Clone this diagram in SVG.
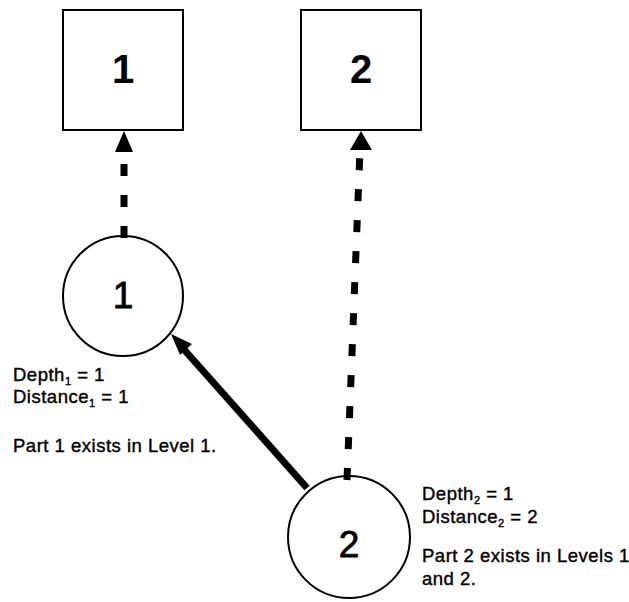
<svg xmlns="http://www.w3.org/2000/svg" width="629" height="602" viewBox="0 0 629 602">
  <style>
    .box { fill: #fff; stroke: #000; stroke-width: 2; }
    .node { fill: #fff; stroke: #000; stroke-width: 2; }
    .boxnum { font-family: "Liberation Sans", Arial, sans-serif; font-weight: bold; font-size: 40px; text-anchor: middle; fill: #000; }
    .nodenum { font-family: "Liberation Sans", Arial, sans-serif; font-size: 37px; text-anchor: middle; fill: #000; stroke: #000; stroke-width: 0.8; }
    .note { font-family: "Liberation Sans", Arial, sans-serif; font-size: 18.5px; letter-spacing: 0.5px; fill: #000; stroke: #000; stroke-width: 0.4; }
    .sub { font-size: 11px; }
    .dash { fill: none; stroke: #000; stroke-width: 7; stroke-dasharray: 12 19; }
    .solid { fill: none; stroke: #000; stroke-width: 7; }
  </style>

  <rect width="629" height="602" fill="#fff"/>

  <!-- level boxes -->
  <g id="level-1">
    <rect class="box" x="63" y="10" width="120" height="120"/>
    <text class="boxnum" x="123" y="83">1</text>
  </g>
  <g id="level-2">
    <rect class="box" x="301" y="10" width="120" height="120"/>
    <text class="boxnum" x="361" y="83">2</text>
  </g>

  <!-- part nodes -->
  <g id="part-1">
    <circle class="node" cx="123" cy="296" r="60"/>
    <text class="nodenum" x="123" y="308">1</text>
  </g>
  <g id="part-2">
    <circle class="node" cx="349" cy="537" r="61"/>
    <text class="nodenum" x="349" y="557">2</text>
  </g>

  <!-- connectors -->
  <g id="connectors">
    <!-- part 1 -> level 1 (dashed) -->
    <path class="dash" d="M124,238 L124,150"/>
    <path d="M124,131 L133,152 L115,152 Z" fill="#000"/>
    <!-- part 2 -> level 2 (dashed) -->
    <path class="dash" d="M347,480 L360,150"/>
    <path d="M361,131 L372,150 L350,150 Z" fill="#000"/>
    <!-- part 2 -> part 1 (solid) -->
    <path class="solid" d="M307,488 L180,345"/>
    <path d="M171,334 L192,344 L180,355 Z" fill="#000"/>
  </g>

  <!-- annotations -->
  <g id="notes-1">
    <text class="note" x="13" y="381">Depth<tspan class="sub" dy="4">1</tspan><tspan dy="-4"> = 1</tspan></text>
    <text class="note" x="13" y="403">Distance<tspan class="sub" dy="4">1</tspan><tspan dy="-4"> = 1</tspan></text>
    <text class="note" x="13" y="452">Part 1 exists in Level 1.</text>
  </g>
  <g id="notes-2">
    <text class="note" x="422" y="500">Depth<tspan class="sub" dy="4">2</tspan><tspan dy="-4"> = 1</tspan></text>
    <text class="note" x="422" y="523">Distance<tspan class="sub" dy="4">2</tspan><tspan dy="-4"> = 2</tspan></text>
    <text class="note" x="422" y="562">Part 2 exists in Levels 1</text>
    <text class="note" x="422" y="585">and 2.</text>
  </g>
</svg>
